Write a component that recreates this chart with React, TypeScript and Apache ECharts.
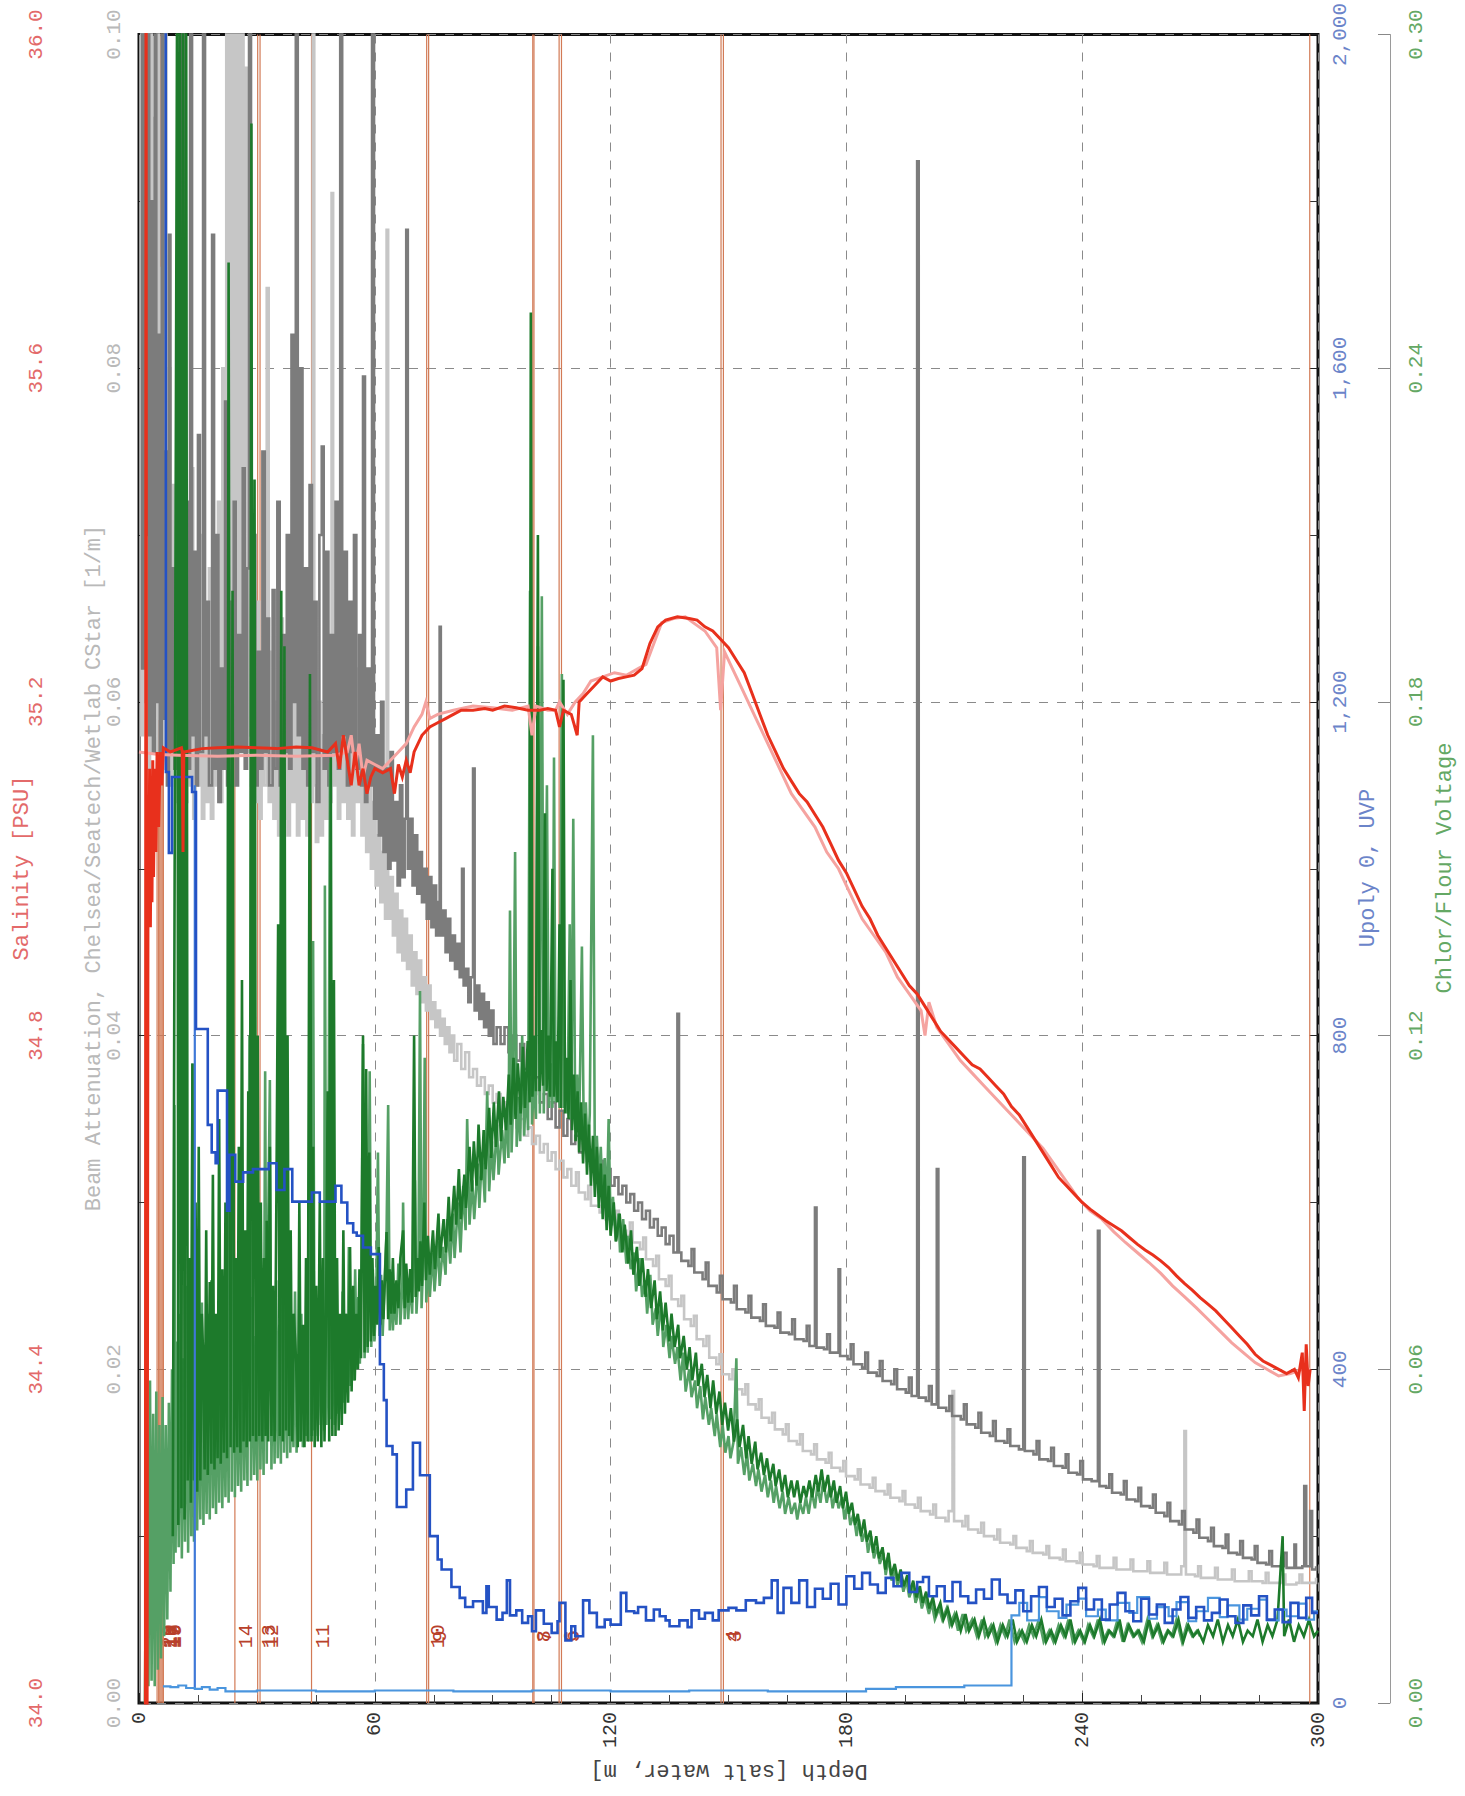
import React, { useEffect, useRef } from 'react';
import * as echarts from 'echarts';

const FONT = '"Liberation Mono", "DejaVu Sans Mono", monospace';

// Depth ticks (m)
const depthTicks = [0, 60, 120, 180, 240, 300];

// Axis titles
const titleSalinity = 'Salinity [PSU]';
const titleBeam = 'Beam Attenuation, Chelsea/Seatech/Wetlab CStar [1/m]';
const titleUvp = 'Upoly 0, UVP';
const titleChlor = 'Chlor/Flour Voltage';
const titleDepth = 'Depth [salt water, m]';

// Bottle fire depths and labels
const bottleDepths = [4.6, 5.0, 5.3, 5.6, 5.9, 6.2, 24.4, 30.2, 30.8, 43.9, 73.2, 73.7, 100.2, 100.5, 106.9, 107.5, 148.1, 148.7, 297.9];
const bottleLabels = ['20', '19', '18', '17', '16', '15', '14', '13', '12', '11', '10', '9', '8', '7', '6', '5', '4', '3', ''];

// Salinity [PSU] (red) - [depth, value]
const salinityRed = [
  [1.6, 33.6], [1.8, 36.3], [2.0, 33.7], [2.3, 35.05], [2.5, 34.95], [2.7, 35.12], [2.9, 34.93], [3.1, 35.1], [3.3, 34.96], [3.5, 35.13], [3.7, 34.99], [4.0, 35.12], [4.3, 35.02], [4.6, 35.14], [5.0, 35.05], [5.4, 35.14], [5.8, 35.1], [6.2, 35.145], [8, 35.14], [10.8, 35.145], [11, 35.14], [11.2, 35.02], [11.4, 35.14], [16, 35.144], [20, 35.145], [25, 35.146], [30, 35.145], [35, 35.144], [40, 35.146], [44, 35.145], [48, 35.14], [50, 35.15], [51, 35.12], [52, 35.16], [53, 35.13], [54, 35.1], [55, 35.14], [56, 35.1], [57, 35.12], [58, 35.09], [59, 35.11], [60, 35.12], [62, 35.115], [64, 35.12], [65, 35.09], [66, 35.125], [67, 35.11], [68, 35.13], [69, 35.115], [70, 35.14], [71, 35.15], [72, 35.16], [74, 35.17], [76, 35.175], [78, 35.18], [80, 35.185], [82, 35.19], [85, 35.19], [88, 35.192], [90, 35.19], [93, 35.195], [96, 35.193], [99, 35.19], [100, 35.19], [102, 35.19], [104, 35.192], [106, 35.19], [107, 35.17], [108, 35.19], [110, 35.185], [111.5, 35.16], [112, 35.2], [114, 35.21], [116, 35.22], [118, 35.23], [120, 35.225], [122, 35.228], [124, 35.23], [126, 35.232], [128, 35.24], [130, 35.27], [132, 35.29], [134, 35.298], [137, 35.302], [140, 35.3], [142, 35.298], [144, 35.29], [146, 35.285], [148, 35.275], [150, 35.265], [152, 35.25], [154, 35.235], [156, 35.21], [158, 35.185], [160, 35.16], [162, 35.14], [164, 35.12], [166, 35.105], [168, 35.09], [170, 35.08], [172, 35.065], [174, 35.05], [176, 35.03], [178, 35.01], [180, 34.995], [182, 34.975], [184, 34.955], [186, 34.94], [188, 34.92], [190, 34.905], [192, 34.89], [194, 34.875], [196, 34.86], [198, 34.85], [200, 34.835], [202, 34.82], [204, 34.805], [206, 34.795], [208, 34.785], [210, 34.775], [212, 34.765], [214, 34.76], [216, 34.75], [218, 34.74], [220, 34.73], [222, 34.715], [224, 34.705], [226, 34.69], [228, 34.675], [230, 34.66], [232, 34.645], [234, 34.63], [236, 34.62], [238, 34.61], [240, 34.6], [242, 34.592], [244, 34.585], [246, 34.578], [248, 34.572], [250, 34.566], [252, 34.558], [254, 34.55], [256, 34.543], [258, 34.537], [260, 34.53], [262, 34.522], [264, 34.512], [266, 34.503], [268, 34.495], [270, 34.486], [272, 34.478], [274, 34.47], [276, 34.46], [278, 34.45], [280, 34.44], [282, 34.43], [284, 34.418], [286, 34.41], [288, 34.405], [290, 34.4], [292, 34.395], [294, 34.4], [295, 34.39], [296, 34.42], [296.5, 34.35], [297, 34.43], [297.5, 34.38], [298, 34.4]
];

// Salinity [PSU] (pink)
const salinityPink = [
  [0, 35.14], [5, 35.137], [10, 35.136], [20, 35.135], [30, 35.136], [40, 35.135], [50, 35.136], [53, 35.14], [54, 35.16], [55, 35.12], [56, 35.15], [57, 35.11], [58, 35.13], [60, 35.125], [62, 35.12], [64, 35.13], [66, 35.14], [68, 35.15], [70, 35.17], [72, 35.185], [73, 35.2], [74, 35.18], [76, 35.185], [80, 35.19], [85, 35.195], [90, 35.193], [95, 35.19], [99, 35.195], [100, 35.16], [101, 35.195], [104, 35.19], [106, 35.19], [107, 35.2], [109, 35.185], [111, 35.2], [113, 35.21], [115, 35.225], [118, 35.23], [121, 35.235], [124, 35.232], [127, 35.24], [129, 35.245], [131, 35.27], [133, 35.295], [136, 35.3], [139, 35.302], [141, 35.295], [144, 35.285], [147, 35.265], [148, 35.19], [149, 35.26], [151, 35.24], [153, 35.22], [155, 35.2], [157, 35.18], [160, 35.15], [163, 35.12], [166, 35.09], [169, 35.07], [172, 35.05], [175, 35.02], [178, 35.0], [181, 34.97], [184, 34.94], [187, 34.92], [190, 34.9], [193, 34.87], [196, 34.85], [199, 34.83], [200, 34.8], [201, 34.84], [203, 34.81], [206, 34.79], [209, 34.77], [212, 34.755], [215, 34.74], [218, 34.725], [221, 34.71], [224, 34.695], [227, 34.68], [230, 34.665], [233, 34.645], [236, 34.625], [239, 34.605], [242, 34.59], [245, 34.58], [248, 34.565], [251, 34.552], [254, 34.54], [257, 34.528], [260, 34.515], [263, 34.5], [266, 34.487], [269, 34.474], [272, 34.46], [275, 34.446], [278, 34.432], [281, 34.42], [284, 34.408], [287, 34.4], [290, 34.392], [293, 34.395], [296, 34.4], [298, 34.4]
];

// Beam attenuation [1/m] (dark grey)
const beamDark = [
  [0.3, 0.105], [0.8, 0.062], [1.2, 0.105], [1.7, 0.07], [2.1, 0.105], [2.6, 0.058], [3.0, 0.09], [3.5, 0.057], [4.0, 0.105], [4.4, 0.06], [4.9, 0.082], [5.3, 0.056], [5.8, 0.105], [6.2, 0.059], [6.7, 0.075], [7.1, 0.055], [7.6, 0.088], [8.0, 0.057], [8.5, 0.068], [9.0, 0.056], [9.5, 0.078], [10.0, 0.058], [10.5, 0.064], [11.0, 0.105], [11.4, 0.06], [12.0, 0.072], [12.5, 0.056], [13.0, 0.105], [13.5, 0.058], [14.0, 0.069], [14.5, 0.055], [15.0, 0.076], [15.5, 0.057], [16.3, 0.105], [16.8, 0.058], [17.3, 0.066], [17.8, 0.055], [18.6, 0.088], [19.1, 0.056], [19.7, 0.07], [20.2, 0.054], [20.8, 0.062], [21.3, 0.056], [21.9, 0.078], [22.4, 0.055], [23.0, 0.066], [23.5, 0.057], [24.1, 0.072], [24.6, 0.055], [25.2, 0.064], [25.8, 0.057], [26.4, 0.074], [26.9, 0.056], [27.5, 0.068], [28.0, 0.105], [28.5, 0.058], [29.1, 0.07], [29.6, 0.055], [30.2, 0.063], [30.8, 0.056], [31.4, 0.075], [32.0, 0.057], [32.6, 0.065], [33.1, 0.055], [34.0, 0.0667], [34.5, 0.056], [35.2, 0.072], [35.8, 0.055], [36.4, 0.064], [37.0, 0.057], [37.6, 0.07], [38.2, 0.056], [38.8, 0.082], [39.3, 0.06], [39.9, 0.105], [40.4, 0.058], [41.0, 0.08], [41.6, 0.056], [42.2, 0.068], [42.8, 0.055], [43.4, 0.073], [44.0, 0.057], [44.6, 0.066], [45.2, 0.054], [45.9, 0.07], [46.5, 0.0753], [47.0, 0.056], [47.6, 0.069], [48.2, 0.055], [48.8, 0.064], [49.4, 0.057], [50.0, 0.072], [50.6, 0.056], [51.2, 0.105], [51.7, 0.058], [52.3, 0.069], [52.9, 0.055], [53.5, 0.066], [54.1, 0.057], [54.7, 0.07], [55.3, 0.056], [56.0, 0.064], [56.5, 0.055], [57.0, 0.0795], [57.5, 0.054], [58.1, 0.062], [58.7, 0.055], [59.3, 0.105], [59.8, 0.053], [60.4, 0.058], [61.0, 0.052], [61.6, 0.06], [62.2, 0.051], [62.8, 0.056], [63.4, 0.05], [64.0, 0.057], [64.6, 0.0505], [65.2, 0.054], [65.8, 0.049], [66.4, 0.055], [67.0, 0.0495], [67.6, 0.053], [68.0, 0.0883], [68.4, 0.05], [69.0, 0.053], [69.6, 0.049], [70.2, 0.052], [70.8, 0.0485], [71.4, 0.051], [72.0, 0.048], [72.6, 0.05], [73.2, 0.047], [73.8, 0.0495], [74.4, 0.0465], [75.0, 0.049], [75.6, 0.046], [76.2, 0.048], [76.5, 0.0645], [76.8, 0.046], [77.4, 0.0475], [78.0, 0.045], [78.6, 0.047], [79.2, 0.0445], [79.8, 0.046], [80.4, 0.044], [81.0, 0.0455], [81.6, 0.0435], [82.2, 0.05], [82.6, 0.043], [83.2, 0.044], [83.8, 0.042], [84.4, 0.0435], [85.0, 0.056], [85.4, 0.0415], [86.0, 0.043], [86.6, 0.041], [87.2, 0.0425], [87.8, 0.0405], [88.4, 0.042], [89.0, 0.04], [89.6, 0.0415], [90.2, 0.0395], [91, 0.0405], [92, 0.0395], [93, 0.0405], [94, 0.039], [95, 0.04], [96, 0.0385], [97, 0.0395], [98, 0.038], [99, 0.039], [100, 0.0365], [101, 0.0375], [102, 0.036], [103, 0.0365], [104, 0.035], [105, 0.036], [106, 0.0345], [107, 0.0355], [108, 0.034], [109, 0.035], [110, 0.0335], [111, 0.034], [112, 0.033], [113, 0.0335], [114, 0.0325], [115, 0.033], [116, 0.032], [117, 0.0325], [118, 0.0315], [119, 0.032], [120, 0.031], [121, 0.0315], [122, 0.0305], [123, 0.031], [124, 0.03], [125, 0.0305], [126, 0.0295], [127, 0.03], [128, 0.029], [129, 0.0295], [130, 0.0285], [131, 0.029], [132, 0.028], [133, 0.0285], [134, 0.0275], [135, 0.028], [136, 0.027], [137, 0.0413], [137.4, 0.027], [138, 0.0265], [139.8, 0.0262], [140.6, 0.0272], [141.3, 0.0258], [143.4, 0.0254], [144.2, 0.0264], [144.9, 0.025], [147, 0.0246], [147.8, 0.0256], [148.5, 0.0242], [150.6, 0.024], [151.4, 0.025], [152.1, 0.0236], [154.3, 0.0234], [155.1, 0.0244], [155.8, 0.0231], [158, 0.0229], [158.8, 0.0239], [159.5, 0.0226], [161.7, 0.0225], [162.5, 0.0234], [163.2, 0.0222], [165.4, 0.0221], [166.2, 0.023], [166.9, 0.0218], [169.1, 0.0217], [169.9, 0.0226], [170.6, 0.0214], [172, 0.0297], [172.4, 0.0213], [174.3, 0.0212], [175.1, 0.0221], [175.8, 0.021], [178, 0.026], [178.4, 0.0208], [180.3, 0.0206], [181.1, 0.0215], [181.8, 0.0203], [184, 0.0201], [184.8, 0.021], [185.5, 0.0198], [187.7, 0.0196], [188.5, 0.0205], [189.2, 0.0193], [191.4, 0.0191], [192.2, 0.02], [192.9, 0.0188], [195.1, 0.0186], [195.9, 0.0195], [196.6, 0.0184], [198, 0.0924], [198.4, 0.0183], [200.2, 0.0181], [201, 0.019], [201.7, 0.0179], [203, 0.032], [203.4, 0.0177], [205.4, 0.0175], [206.2, 0.0184], [206.9, 0.0172], [209.1, 0.017], [209.9, 0.0179], [210.6, 0.0167], [212.8, 0.0165], [213.6, 0.0174], [214.3, 0.0162], [216.5, 0.016], [217.3, 0.0169], [218, 0.0157], [220.2, 0.0156], [221, 0.0164], [221.7, 0.0154], [223.9, 0.0152], [225, 0.0327], [225.4, 0.0151], [227.6, 0.0149], [228.4, 0.0157], [229.1, 0.0146], [231.3, 0.0145], [232.1, 0.0153], [232.8, 0.0142], [235, 0.0141], [235.8, 0.0149], [236.5, 0.0138], [238.7, 0.0137], [239.5, 0.0145], [240.2, 0.0134], [242.4, 0.0133], [244, 0.0283], [244.4, 0.013], [246.1, 0.0129], [246.9, 0.0137], [247.6, 0.0126], [249.8, 0.0125], [250.6, 0.0133], [251.3, 0.0122], [253.5, 0.0121], [254.3, 0.0129], [255, 0.0118], [257.2, 0.0117], [258, 0.0125], [258.7, 0.0114], [260.9, 0.0112], [261.7, 0.012], [262.4, 0.0109], [264.6, 0.0107], [265.4, 0.0115], [266.1, 0.0104], [268.3, 0.0102], [269.1, 0.011], [269.8, 0.0099], [272, 0.0097], [272.8, 0.0105], [273.5, 0.0094], [275.7, 0.0093], [276.5, 0.0101], [277.2, 0.009], [279.4, 0.0089], [280.2, 0.0097], [280.9, 0.0087], [283.1, 0.0086], [283.9, 0.0094], [284.6, 0.0084], [286.8, 0.0083], [287.6, 0.0091], [288.3, 0.0082], [290.5, 0.0082], [291.3, 0.009], [292, 0.0081], [294, 0.0095], [294.4, 0.0081], [296, 0.0082], [296.5, 0.013], [297, 0.0082], [298, 0.0115], [298.5, 0.008], [299.5, 0.0082]
];

// Beam attenuation [1/m] (light grey)
const beamLight = [
  [0.2, 0.105], [0.6, 0.058], [1.0, 0.105], [1.5, 0.06], [1.9, 0.105], [2.4, 0.056], [2.8, 0.105], [3.3, 0.06], [3.7, 0.095], [4.2, 0.057], [4.7, 0.105], [5.1, 0.059], [5.6, 0.086], [6.1, 0.056], [6.6, 0.105], [7.0, 0.058], [7.5, 0.08], [8.0, 0.055], [8.4, 0.073], [8.9, 0.056], [9.4, 0.066], [9.8, 0.054], [10.3, 0.07], [10.8, 0.056], [11.3, 0.079], [11.8, 0.054], [12.3, 0.066], [12.8, 0.055], [13.3, 0.074], [13.8, 0.053], [14.4, 0.065], [14.9, 0.055], [15.5, 0.07], [16.0, 0.053], [16.6, 0.062], [17.2, 0.054], [17.8, 0.068], [18.3, 0.053], [18.9, 0.06], [19.5, 0.055], [20.1, 0.072], [20.6, 0.054], [21.2, 0.08], [21.7, 0.056], [22.2, 0.105], [22.6, 0.06], [23.0, 0.105], [23.4, 0.058], [23.8, 0.105], [24.2, 0.062], [24.6, 0.105], [25.0, 0.06], [25.4, 0.105], [25.8, 0.058], [26.2, 0.105], [26.6, 0.06], [27.0, 0.098], [27.5, 0.057], [28.0, 0.08], [28.5, 0.055], [29.0, 0.07], [29.5, 0.054], [30.0, 0.066], [30.6, 0.053], [31.2, 0.062], [31.8, 0.055], [32.5, 0.0848], [33.0, 0.054], [33.6, 0.063], [34.2, 0.053], [34.8, 0.06], [35.4, 0.052], [36.0, 0.065], [36.6, 0.053], [37.2, 0.059], [37.8, 0.052], [38.4, 0.063], [39.0, 0.054], [39.6, 0.06], [40.2, 0.052], [40.8, 0.066], [41.4, 0.053], [42.0, 0.06], [42.6, 0.052], [43.2, 0.064], [43.8, 0.054], [44.2, 0.105], [44.6, 0.055], [45.0, 0.0516], [45.6, 0.06], [46.2, 0.052], [46.8, 0.058], [47.4, 0.053], [48.0, 0.063], [48.6, 0.054], [49.0, 0.0905], [49.4, 0.055], [50.0, 0.061], [50.6, 0.053], [51.2, 0.066], [51.8, 0.054], [52.4, 0.06], [53.0, 0.053], [53.6, 0.058], [54.2, 0.052], [54.8, 0.062], [55.4, 0.054], [56.0, 0.06], [56.6, 0.052], [57.2, 0.056], [57.8, 0.051], [58.4, 0.055], [59.0, 0.05], [59.6, 0.054], [60.2, 0.049], [60.8, 0.052], [61.4, 0.048], [62.0, 0.051], [62.6, 0.047], [63.0, 0.0883], [63.4, 0.047], [64.0, 0.0495], [64.6, 0.046], [65.2, 0.0485], [65.8, 0.045], [66.4, 0.0475], [67.0, 0.0445], [67.6, 0.047], [68.2, 0.044], [68.8, 0.046], [69.4, 0.043], [70.0, 0.045], [70.6, 0.0425], [71.2, 0.0445], [71.8, 0.042], [72.4, 0.0435], [73.0, 0.0415], [73.6, 0.043], [74.2, 0.041], [74.8, 0.042], [75.4, 0.0405], [76.0, 0.0415], [76.6, 0.04], [77.2, 0.041], [77.8, 0.0395], [78.4, 0.0405], [79.0, 0.039], [79.6, 0.04], [80.2, 0.0385], [81, 0.0395], [82, 0.038], [83, 0.039], [84, 0.0375], [85, 0.038], [86, 0.037], [87, 0.0375], [88, 0.0365], [89, 0.037], [90, 0.036], [91, 0.0365], [92, 0.0355], [93, 0.036], [94, 0.035], [95, 0.0355], [96, 0.0345], [97, 0.035], [98, 0.034], [99, 0.0345], [100, 0.0335], [101, 0.034], [102, 0.033], [103, 0.0335], [104, 0.0325], [105, 0.033], [106, 0.032], [107, 0.0325], [108, 0.0315], [109, 0.032], [110, 0.031], [111.2, 0.0318], [111.9, 0.0306], [113.5, 0.0302], [114.3, 0.031], [115, 0.0298], [117.2, 0.0294], [118, 0.0302], [118.7, 0.029], [120.5, 0.0287], [121.4, 0.0295], [122.1, 0.0283], [124, 0.028], [124.9, 0.0288], [125.6, 0.0276], [127.5, 0.0272], [128.3, 0.0279], [129, 0.0266], [130.8, 0.0262], [131.6, 0.0268], [132.3, 0.0254], [134, 0.025], [134.8, 0.0256], [135.5, 0.0242], [137.2, 0.0238], [138, 0.0244], [138.7, 0.023], [140.4, 0.0226], [141.2, 0.0232], [141.9, 0.0218], [143.6, 0.0214], [144.4, 0.022], [145.1, 0.0207], [146.9, 0.0203], [147.7, 0.0209], [148.4, 0.0197], [150.2, 0.0194], [151, 0.02], [151.7, 0.0188], [153.5, 0.0185], [154.3, 0.0191], [155, 0.0179], [156.9, 0.0176], [157.7, 0.0182], [158.4, 0.0171], [160.3, 0.0168], [161.1, 0.0174], [161.8, 0.0164], [163.8, 0.0161], [164.6, 0.0167], [165.3, 0.0157], [167.4, 0.0155], [168.2, 0.0161], [168.9, 0.0151], [171, 0.0149], [171.8, 0.0155], [172.5, 0.0146], [174.7, 0.0144], [175.5, 0.015], [176.2, 0.0141], [178.4, 0.0139], [179.2, 0.0145], [179.9, 0.0136], [182.1, 0.0134], [182.9, 0.014], [183.6, 0.0131], [185.9, 0.0129], [186.7, 0.0135], [187.4, 0.0127], [189.7, 0.0125], [190.5, 0.0131], [191.2, 0.0123], [193.5, 0.0121], [194.3, 0.0127], [195, 0.0119], [197.4, 0.0117], [198.2, 0.0123], [198.9, 0.0115], [201.3, 0.0113], [202.1, 0.0119], [202.8, 0.0111], [205.2, 0.0109], [206, 0.0115], [207, 0.0187], [207.4, 0.0109], [209.5, 0.0106], [210.3, 0.0112], [211, 0.0104], [213.5, 0.0102], [214.3, 0.0108], [215, 0.01], [217.6, 0.0098], [218.4, 0.0104], [219.1, 0.0096], [221.7, 0.0095], [222.5, 0.01], [223.2, 0.0093], [225.9, 0.0091], [226.7, 0.0097], [227.4, 0.009], [230.1, 0.0089], [230.9, 0.0094], [231.6, 0.0087], [234.3, 0.0086], [235.1, 0.0092], [235.8, 0.0085], [238.6, 0.0084], [239.4, 0.009], [240.1, 0.0083], [242.9, 0.0082], [243.7, 0.0088], [244.4, 0.0081], [247.2, 0.0081], [248, 0.0087], [248.7, 0.008], [251.5, 0.008], [252.3, 0.0086], [253, 0.0079], [255.8, 0.0079], [256.6, 0.0085], [257.3, 0.0078], [260.1, 0.0078], [260.9, 0.0084], [261.6, 0.0077], [264.4, 0.0077], [265.2, 0.0082], [266, 0.0163], [266.4, 0.0077], [268.7, 0.0076], [269.5, 0.0082], [270.2, 0.0075], [273, 0.0075], [273.8, 0.0081], [274.5, 0.0074], [277.3, 0.0074], [278.1, 0.008], [278.8, 0.0073], [281.6, 0.0073], [282.4, 0.0079], [283.1, 0.0073], [285.9, 0.0072], [286.7, 0.0078], [287.4, 0.0072], [290.2, 0.0072], [291, 0.0077], [291.7, 0.0071], [294.5, 0.0072], [295.3, 0.0077], [296, 0.0072], [298.8, 0.0072], [299.5, 0.0075]
];

// Chlor/Flour voltage (medium green)
const chlorMed = [
  [1.5, 0.0], [2, 0.05], [2.4, 0.003], [2.8, 0.058], [3.2, 0.004], [3.6, 0.052], [4.0, 0.003], [4.4, 0.056], [4.8, 0.006], [5.2, 0.05], [5.6, 0.008], [6.0, 0.055], [6.4, 0.012], [6.8, 0.05], [7.2, 0.015], [7.6, 0.054], [8.0, 0.02], [8.4, 0.06], [8.8, 0.025], [9.0, 0.1075], [9.3, 0.027], [9.7, 0.065], [10.1, 0.028], [10.5, 0.07], [10.9, 0.026], [11.3, 0.062], [11.7, 0.029], [12.1, 0.075], [12.5, 0.027], [12.9, 0.066], [13.3, 0.03], [13.6, 0.115], [14.0, 0.029], [14.4, 0.07], [14.8, 0.031], [15.2, 0.064], [15.6, 0.033], [16.0, 0.072], [16.4, 0.032], [16.8, 0.063], [17.2, 0.034], [17.6, 0.07], [18.0, 0.033], [18.4, 0.076], [18.8, 0.035], [19.2, 0.062], [19.6, 0.034], [20.0, 0.069], [20.4, 0.036], [20.8, 0.074], [21.2, 0.035], [21.6, 0.063], [22.0, 0.037], [22.4, 0.07], [22.8, 0.036], [23.2, 0.141], [23.6, 0.038], [24.0, 0.1], [24.4, 0.037], [24.8, 0.072], [25.2, 0.039], [25.6, 0.066], [26.0, 0.038], [26.4, 0.075], [26.8, 0.04], [27.2, 0.068], [27.6, 0.039], [28.1, 0.12], [28.5, 0.04], [28.9, 0.073], [29.3, 0.041], [29.7, 0.066], [30.1, 0.04], [30.5, 0.078], [30.9, 0.042], [31.3, 0.067], [31.7, 0.041], [32.1, 0.1136], [32.5, 0.043], [32.9, 0.087], [33.3, 0.112], [33.7, 0.042], [34.1, 0.07], [34.5, 0.043], [34.9, 0.076], [35.3, 0.044], [35.7, 0.068], [36.1, 0.043], [36.5, 0.15], [36.9, 0.045], [37.3, 0.072], [37.7, 0.044], [38.1, 0.079], [38.5, 0.045], [38.9, 0.067], [39.3, 0.046], [39.7, 0.074], [40.1, 0.045], [40.5, 0.061], [40.9, 0.047], [41.3, 0.07], [41.7, 0.046], [42.1, 0.065], [42.5, 0.048], [42.9, 0.073], [43.3, 0.047], [43.6, 0.13], [44.0, 0.048], [44.3, 0.137], [44.7, 0.049], [45.1, 0.068], [45.5, 0.048], [45.9, 0.075], [46.3, 0.05], [46.7, 0.067], [47.1, 0.049], [47.3, 0.147], [47.7, 0.05], [48.1, 0.072], [48.6, 0.169], [49.0, 0.051], [49.4, 0.07], [49.8, 0.05], [50.2, 0.076], [50.6, 0.052], [51.0, 0.069], [51.4, 0.053], [51.8, 0.074], [52.2, 0.054], [52.6, 0.07], [53.0, 0.056], [53.4, 0.082], [53.8, 0.057], [54.2, 0.072], [54.6, 0.058], [55.0, 0.078], [55.4, 0.06], [55.8, 0.073], [56.2, 0.061], [56.6, 0.08], [57.0, 0.1185], [57.4, 0.062], [57.8, 0.076], [58.2, 0.063], [58.7, 0.1136], [59.1, 0.064], [59.5, 0.078], [59.9, 0.065], [60.4, 0.074], [60.8, 0.099], [61.2, 0.066], [61.6, 0.077], [62.0, 0.066], [62.4, 0.074], [63.0, 0.085], [63.4, 0.1075], [63.8, 0.067], [64.2, 0.076], [64.6, 0.067], [65.0, 0.073], [65.5, 0.068], [66.0, 0.079], [66.5, 0.068], [67.0, 0.075], [67.2, 0.09], [67.6, 0.069], [68.0, 0.078], [68.5, 0.069], [69.0, 0.076], [69.5, 0.07], [70.2, 0.094], [70.6, 0.07], [71.1, 0.078], [71.5, 0.128], [71.9, 0.071], [72.3, 0.079], [72.7, 0.116], [73.1, 0.072], [73.6, 0.08], [74.0, 0.073], [74.7, 0.081], [75.2, 0.074], [76.1, 0.083], [76.5, 0.075], [77.3, 0.082], [78, 0.077], [78.4, 0.087], [79.2, 0.079], [79.9, 0.088], [80.3, 0.08], [81.2, 0.09], [81.8, 0.081], [82.5, 0.093], [83.1, 0.085], [83.5, 0.105], [84.1, 0.086], [84.8, 0.094], [85.3, 0.087], [86.2, 0.097], [86.6, 0.089], [87.3, 0.099], [88, 0.09], [88.6, 0.11], [89.1, 0.092], [89.8, 0.101], [90.2, 0.094], [91.1, 0.104], [91.5, 0.095], [92.4, 0.103], [93, 0.097], [93.5, 0.107], [94, 0.098], [94.4, 0.1425], [94.8, 0.099], [95.2, 0.108], [95.7, 0.153], [96.1, 0.1], [96.6, 0.109], [97, 0.101], [97.5, 0.12], [98, 0.102], [98.5, 0.111], [99, 0.103], [99.5, 0.2], [100, 0.104], [100.5, 0.112], [101, 0.105], [101.5, 0.19], [102, 0.106], [102.5, 0.199], [103, 0.106], [103.8, 0.165], [104.3, 0.107], [104.8, 0.115], [105.2, 0.107], [105.6, 0.17], [106, 0.108], [106.5, 0.116], [107, 0.107], [107.6, 0.185], [108.1, 0.107], [108.6, 0.115], [109, 0.106], [109.6, 0.14], [110, 0.105], [110.5, 0.159], [111, 0.104], [111.5, 0.113], [112, 0.103], [112.7, 0.136], [113.2, 0.1], [113.7, 0.108], [114.2, 0.098], [114.7, 0.106], [115.5, 0.174], [116, 0.095], [116.5, 0.102], [117, 0.093], [117.5, 0.1], [118, 0.09], [118.5, 0.098], [119, 0.088], [119.5, 0.105], [120, 0.086], [120.6, 0.091], [121.3, 0.083], [122, 0.088], [122.4, 0.081], [123.2, 0.087], [124, 0.079], [124.3, 0.084], [125.1, 0.078], [126, 0.081], [126.5, 0.074], [127.4, 0.08], [128, 0.073], [128.8, 0.076], [129.3, 0.07], [130.1, 0.077], [130.7, 0.068], [131.5, 0.071], [132, 0.066], [132.9, 0.072], [133.4, 0.064], [134.2, 0.068], [135, 0.062], [135.5, 0.066], [136.4, 0.061], [137, 0.064], [137.8, 0.058], [138.5, 0.063], [139.1, 0.056], [140, 0.06], [140.6, 0.055], [141.5, 0.058], [142, 0.053], [142.8, 0.057], [143.5, 0.051], [144.1, 0.055], [145, 0.05], [145.6, 0.053], [146.5, 0.048], [147, 0.052], [147.9, 0.046], [148.5, 0.05], [149.2, 0.045], [150, 0.048], [150.5, 0.044], [151.3, 0.047], [152, 0.062], [152.4, 0.043], [153.2, 0.046], [154, 0.041], [154.7, 0.045], [155.3, 0.04], [156.2, 0.043], [157, 0.039], [157.6, 0.042], [158.4, 0.038], [159.3, 0.041], [160, 0.037], [160.8, 0.04], [161.5, 0.036], [162.1, 0.039], [163, 0.035], [163.8, 0.038], [164.4, 0.034], [165.3, 0.037], [166, 0.034], [166.9, 0.036], [167.5, 0.033], [168.2, 0.036], [169, 0.034], [169.7, 0.037], [170.4, 0.034], [171.2, 0.038], [172, 0.035], [172.6, 0.039], [173.4, 0.036], [174.1, 0.04], [175, 0.036], [175.8, 0.039], [176.5, 0.035], [177.3, 0.038], [178, 0.035], [178.9, 0.037], [179.5, 0.033], [180.3, 0.036], [181, 0.032], [181.8, 0.034], [182.6, 0.03], [183.2, 0.033], [184, 0.029], [184.9, 0.031], [185.5, 0.027], [186.3, 0.03], [187, 0.026], [187.8, 0.028], [188.5, 0.025], [189.4, 0.027], [190, 0.023], [190.7, 0.026], [191.5, 0.022], [192.4, 0.024], [193, 0.021], [193.8, 0.023], [194.5, 0.02], [195.3, 0.022], [196, 0.019], [197, 0.021], [197.6, 0.018], [198.5, 0.02], [199.2, 0.017], [200, 0.019], [201, 0.016], [201.7, 0.018], [202.5, 0.015], [203.6, 0.017], [204.4, 0.015], [205.5, 0.017], [206.3, 0.014], [207.5, 0.016], [208.4, 0.013], [209.6, 0.016], [210.5, 0.013], [212, 0.015], [213.2, 0.012], [214.5, 0.015], [215.3, 0.012], [216.8, 0.014], [218, 0.011], [219.2, 0.014], [220.4, 0.012], [221.5, 0.015], [222.8, 0.011], [224, 0.013], [225.3, 0.011], [226.5, 0.014], [227.6, 0.012], [229, 0.015], [230.2, 0.011], [231.6, 0.013], [232.7, 0.011], [234, 0.014], [235.3, 0.012], [236.5, 0.015], [237.6, 0.011], [239, 0.013], [240.4, 0.011], [241.5, 0.014], [242.8, 0.012], [244, 0.015], [245.2, 0.011], [246.6, 0.013], [247.8, 0.012], [249, 0.015], [250.3, 0.011], [251.5, 0.014], [252.9, 0.012], [254, 0.013], [255.2, 0.011], [256.6, 0.015], [257.8, 0.012], [259, 0.014], [260.3, 0.011], [261.7, 0.013], [262.8, 0.012], [264, 0.015], [265.4, 0.011], [266.6, 0.014], [268, 0.012], [269.2, 0.013], [270, 0.012]
];

// Chlor/Flour voltage (dark green)
const chlorDark = [
  [8.6, 0.03], [9.7, 0.31], [10.0, 0.032], [10.4, 0.31], [10.8, 0.035], [11.2, 0.31], [11.6, 0.033], [12.0, 0.31], [12.4, 0.04], [12.8, 0.08], [13.2, 0.036], [13.6, 0.115], [14.0, 0.04], [14.4, 0.09], [14.8, 0.038], [15.2, 0.1], [15.6, 0.04], [16.0, 0.07], [16.3, 0.063], [16.7, 0.042], [17.1, 0.085], [17.5, 0.041], [18.0, 0.0757], [18.4, 0.043], [18.8, 0.095], [19.2, 0.042], [19.6, 0.07], [20.0, 0.044], [20.4, 0.105], [20.8, 0.043], [21.2, 0.078], [21.6, 0.045], [22.0, 0.09], [22.4, 0.044], [22.8, 0.259], [23.3, 0.046], [23.8, 0.2], [24.2, 0.045], [24.6, 0.08], [25.0, 0.046], [25.4, 0.1], [25.8, 0.045], [26.2, 0.13], [26.6, 0.047], [27.0, 0.085], [27.4, 0.046], [27.8, 0.11], [28.2, 0.047], [28.6, 0.284], [29.0, 0.048], [29.4, 0.22], [29.8, 0.047], [30.2, 0.12], [30.6, 0.048], [31.0, 0.09], [31.4, 0.047], [31.8, 0.08], [32.2, 0.048], [32.5, 0.0867], [32.9, 0.047], [33.3, 0.1], [33.7, 0.048], [34.1, 0.075], [34.5, 0.047], [35.0, 0.095], [35.4, 0.14], [35.8, 0.048], [36.2, 0.2], [36.6, 0.047], [37.0, 0.19], [37.4, 0.049], [37.8, 0.12], [38.2, 0.048], [38.6, 0.085], [39.0, 0.047], [39.4, 0.07], [40.0, 0.061], [40.4, 0.046], [40.8, 0.09], [41.2, 0.047], [41.7, 0.068], [42.1, 0.046], [42.5, 0.08], [42.9, 0.047], [43.5, 0.185], [43.9, 0.047], [44.3, 0.1], [44.7, 0.046], [45.1, 0.075], [45.5, 0.047], [46.0, 0.09], [46.4, 0.046], [46.8, 0.08], [47.2, 0.047], [47.6, 0.07], [48.0, 0.11], [48.4, 0.047], [48.8, 0.17], [49.2, 0.048], [49.6, 0.13], [50.0, 0.048], [50.4, 0.08], [50.8, 0.049], [51.2, 0.07], [51.6, 0.05], [52.0, 0.085], [52.4, 0.052], [52.8, 0.07], [53.2, 0.054], [53.7, 0.082], [54.1, 0.056], [54.5, 0.075], [54.9, 0.058], [55.3, 0.07], [55.7, 0.06], [56.1, 0.078], [56.5, 0.062], [57.0, 0.12], [57.4, 0.063], [57.8, 0.114], [58.2, 0.064], [58.6, 0.099], [59.0, 0.065], [59.4, 0.08], [59.8, 0.066], [60.2, 0.075], [60.6, 0.068], [61.0, 0.082], [61.4, 0.068], [61.8, 0.076], [62.2, 0.069], [63.0, 0.0847], [63.4, 0.069], [63.8, 0.078], [64.2, 0.07], [64.6, 0.08], [65.0, 0.07], [65.5, 0.076], [66, 0.071], [66.5, 0.08], [67.2, 0.085], [67.6, 0.071], [68, 0.079], [68.5, 0.072], [69, 0.078], [69.5, 0.072], [70.0, 0.12], [70.4, 0.073], [70.8, 0.08], [71.2, 0.074], [71.6, 0.083], [72.0, 0.075], [72.6, 0.09], [73, 0.076], [73.5, 0.084], [74, 0.077], [74.8, 0.085], [75.3, 0.078], [76.2, 0.088], [76.6, 0.08], [77.5, 0.087], [78.1, 0.081], [78.8, 0.091], [79.3, 0.083], [80.2, 0.093], [80.7, 0.086], [81.4, 0.096], [81.9, 0.087], [82.8, 0.095], [83.2, 0.089], [84.1, 0.1], [84.7, 0.092], [85.2, 0.101], [85.9, 0.093], [86.4, 0.104], [87.1, 0.094], [87.7, 0.103], [88.2, 0.096], [89.1, 0.107], [89.6, 0.098], [90.3, 0.108], [90.8, 0.1], [91.6, 0.11], [92.1, 0.101], [92.7, 0.109], [93.4, 0.103], [94.1, 0.113], [94.6, 0.104], [95.3, 0.116], [95.8, 0.105], [96.4, 0.115], [97.1, 0.106], [97.7, 0.118], [98.2, 0.107], [98.9, 0.119], [99.4, 0.108], [99.7, 0.25], [100.1, 0.109], [100.6, 0.12], [101, 0.11], [101.5, 0.21], [101.9, 0.11], [102.4, 0.121], [102.8, 0.111], [103.3, 0.16], [103.7, 0.11], [104.2, 0.12], [104.6, 0.109], [105.2, 0.15], [105.6, 0.109], [106.1, 0.119], [106.5, 0.108], [107, 0.14], [107.4, 0.107], [108, 0.184], [108.4, 0.106], [108.9, 0.116], [109.3, 0.105], [109.8, 0.13], [110.2, 0.103], [110.7, 0.113], [111.1, 0.101], [111.6, 0.11], [112, 0.099], [112.5, 0.108], [113, 0.097], [113.5, 0.106], [114, 0.095], [114.5, 0.104], [115, 0.093], [115.5, 0.102], [116, 0.091], [116.5, 0.1], [117, 0.089], [117.5, 0.097], [118, 0.087], [118.5, 0.095], [119, 0.085], [119.5, 0.093], [120, 0.084], [120.8, 0.09], [121.4, 0.083], [122.3, 0.088], [123, 0.081], [123.6, 0.086], [124.5, 0.079], [125.2, 0.085], [125.8, 0.077], [126.7, 0.082], [127.3, 0.075], [128.1, 0.08], [128.9, 0.073], [129.5, 0.078], [130.3, 0.071], [131.2, 0.076], [131.8, 0.069], [132.6, 0.074], [133.3, 0.067], [134, 0.072], [134.9, 0.065], [135.5, 0.07], [136.3, 0.064], [137.2, 0.068], [137.7, 0.062], [138.6, 0.066], [139.4, 0.06], [140.1, 0.064], [140.8, 0.058], [141.7, 0.063], [142.3, 0.057], [143.2, 0.061], [143.9, 0.055], [144.6, 0.059], [145.4, 0.053], [146.1, 0.058], [146.9, 0.052], [147.7, 0.056], [148.4, 0.05], [149.1, 0.054], [149.9, 0.049], [150.6, 0.053], [151.4, 0.047], [152.2, 0.051], [152.8, 0.046], [153.7, 0.05], [154.5, 0.044], [155.1, 0.048], [155.9, 0.043], [156.8, 0.047], [157.4, 0.042], [158.3, 0.045], [159, 0.041], [159.8, 0.044], [160.5, 0.04], [161.4, 0.043], [162, 0.039], [162.9, 0.042], [163.6, 0.038], [164.4, 0.041], [165.1, 0.037], [166, 0.04], [166.7, 0.037], [167.5, 0.04], [168.3, 0.036], [169.1, 0.039], [169.8, 0.037], [170.6, 0.04], [171.3, 0.037], [172.2, 0.041], [172.9, 0.038], [173.7, 0.042], [174.4, 0.038], [175.3, 0.041], [176, 0.037], [176.8, 0.04], [177.5, 0.036], [178.4, 0.039], [179.1, 0.035], [179.9, 0.038], [180.6, 0.034], [181.4, 0.036], [182.2, 0.032], [182.9, 0.034], [183.7, 0.03], [184.5, 0.033], [185.2, 0.029], [186.1, 0.031], [186.8, 0.027], [187.6, 0.03], [188.3, 0.026], [189.2, 0.028], [189.9, 0.024], [190.7, 0.027], [191.4, 0.023], [192.3, 0.025], [193.1, 0.022], [193.8, 0.024], [194.6, 0.021], [195.5, 0.023], [196.2, 0.02], [197, 0.022], [197.8, 0.019], [198.7, 0.021], [199.4, 0.018], [200.3, 0.02], [201.1, 0.017], [202, 0.019], [202.8, 0.016], [203.9, 0.018], [204.7, 0.015], [205.8, 0.017], [206.9, 0.014], [208, 0.016], [209.1, 0.013], [210.3, 0.016], [211.2, 0.013], [212.6, 0.015], [213.7, 0.012], [215, 0.015], [216.1, 0.012], [217.4, 0.014], [218.5, 0.011], [219.8, 0.014], [221, 0.012], [222.3, 0.015], [223.4, 0.011], [224.7, 0.013], [225.9, 0.011], [227.2, 0.014], [228.3, 0.012], [229.6, 0.015], [230.8, 0.011], [232.1, 0.013], [233.2, 0.011], [234.6, 0.014], [235.8, 0.012], [237, 0.015], [238.2, 0.011], [239.5, 0.013], [240.7, 0.011], [242, 0.014], [243.1, 0.012], [244.5, 0.015], [245.7, 0.011], [246.9, 0.013], [248.2, 0.012], [249.5, 0.015], [250.6, 0.011], [251.9, 0.014], [253.2, 0.012], [254.4, 0.013], [255.7, 0.011], [257, 0.015], [258.1, 0.012], [259.4, 0.014], [260.7, 0.011], [261.9, 0.013], [263.2, 0.012], [264.5, 0.015], [265.7, 0.011], [267, 0.014], [268.3, 0.012], [269.5, 0.013], [270.8, 0.011], [272, 0.014], [273.3, 0.012], [274.5, 0.015], [275.8, 0.011], [277.1, 0.014], [278.3, 0.012], [279.6, 0.015], [280.9, 0.011], [282.1, 0.013], [283.4, 0.012], [284.6, 0.015], [285.9, 0.011], [287.2, 0.014], [288.4, 0.012], [289.7, 0.015], [291, 0.03], [291.4, 0.012], [292.6, 0.015], [293.9, 0.011], [295.1, 0.014], [296.4, 0.012], [297.7, 0.015], [299, 0.012], [300, 0.013]
];

// Upoly 0, UVP (dark blue) - stepped
const uvpDark = [
  [6.8, 2100], [6.85, 1116], [7.6, 1019], [8.4, 1110], [13.5, 1092], [14.5, 808], [17.5, 693], [18.5, 660], [19.5, 647], [20, 734], [22.4, 590], [23, 657], [24.5, 625], [26.5, 636], [29, 640], [33, 647], [35, 615], [37, 640], [39, 601], [41.7, 601], [44, 612], [46, 601], [50, 620], [51.5, 600], [53, 575], [54.5, 564], [55.4, 560], [57, 546], [59, 538], [61.3, 406], [62.3, 363], [63, 308], [64.5, 298], [65.6, 235], [68, 256], [69.7, 312], [71.5, 273], [74, 200], [76, 172], [77, 160], [79.5, 139], [81.6, 126], [83, 115], [85, 122], [87.5, 108], [88.4, 140], [89, 115], [91, 100], [92.5, 108], [93.6, 147], [94.4, 105], [96, 111], [97.5, 96], [99, 104], [100, 86], [101, 111], [103, 95], [105, 84], [106.5, 98], [107, 120], [108.5, 75], [110, 92], [111, 80], [113, 123], [114.6, 108], [116.5, 91], [118.5, 100], [120, 94], [122.6, 132], [124, 110], [126, 108], [127, 115], [129, 99], [131, 112], [132.5, 104], [134, 99], [135, 92], [137.5, 99], [139.6, 91], [140.6, 111], [142.5, 101], [144, 108], [146, 99], [147.5, 111], [150, 114], [152, 111], [154.4, 123], [157, 120], [159, 126], [161, 147], [162.5, 108], [164, 138], [166, 120], [168, 147], [170, 115], [172, 137], [174, 125], [176, 143], [178, 118], [180, 152], [182, 137], [184, 156], [186, 142], [188, 132], [190, 150], [192, 140], [194, 156], [196, 133], [198, 145], [199.5, 151], [201, 128], [203, 140], [205, 122], [207, 145], [209, 128], [211, 120], [213, 136], [215, 125], [217, 148], [219, 130], [221, 120], [223, 135], [225, 110], [227, 128], [229, 139], [231, 115], [233, 125], [235, 105], [237, 122], [239, 138], [241, 112], [243, 124], [245, 100], [247, 118], [249, 132], [251, 110], [253, 98], [255, 125], [257, 106], [259, 118], [261, 96], [263, 112], [265, 127], [267, 102], [269, 115], [271, 99], [273, 108], [275, 124], [277, 104], [279, 96], [281, 117], [283, 105], [285, 128], [287, 100], [289, 112], [291, 97], [293, 120], [295, 102], [297, 126], [298.5, 108], [300, 108]
];

// Upoly 0, UVP (light blue) - drop at the surface
const uvpLightDrop = [
  [14.2, 1100], [14.2, 17]
];

// Upoly 0, UVP (light blue) - stepped
const uvpLight = [
  [6.1, 20], [8, 19], [10, 21], [12, 18], [14.2, 17], [16, 19], [18, 16], [20, 18], [22, 14], [30, 15], [45, 14], [60, 15], [80, 14], [100, 15], [120, 14], [140, 15], [160, 14], [185, 17], [192.6, 19], [210, 21], [222, 105], [224, 120], [226, 99], [229, 127], [231, 110], [234, 102], [236, 118], [239, 125], [241, 104], [244, 112], [246, 99], [249, 120], [252, 108], [254, 127], [257, 101], [259, 115], [262, 104], [264, 121], [267, 98], [269, 110], [272, 126], [275, 103], [277, 117], [280, 100], [282, 113], [285, 124], [287, 99], [290, 112], [292, 104], [295, 119], [297, 100], [299, 110], [300, 110]
];

const fmtThousands = (v: number) => String(Math.round(v)).replace(/\B(?=(\d{3})+(?!\d))/g, ',');

function lineSeries(name: string, data: number[][], yAxisIndex: number, color: string, width: number, z: number, step?: string) {
  return {
    name,
    type: 'line',
    xAxisIndex: 0,
    yAxisIndex,
    data,
    step: step || false,
    showSymbol: false,
    symbol: 'none',
    clip: true,
    silent: true,
    z,
    lineStyle: { color, width, join: 'miter' },
  };
}

function buildOption() {
  const titleText = (text: string, x: number, y: number, color: string, rotation: number) => ({
    type: 'text',
    x,
    y,
    rotation,
    silent: true,
    style: {
      text,
      fill: color,
      font: `22px ${FONT}`,
      align: 'center',
      verticalAlign: 'middle',
      textAlign: 'center',
      textVerticalAlign: 'middle',
    },
  });

  return {
    animation: false,
    backgroundColor: '#ffffff',
    grid: {
      left: 139,
      right: 147,
      top: 33,
      bottom: 93,
      show: true,
      borderColor: '#111111',
      borderWidth: 3,
      backgroundColor: 'transparent',
    },
    xAxis: [
      {
        type: 'value',
        min: depthTicks[0],
        max: depthTicks[depthTicks.length - 1],
        interval: 60,
        position: 'bottom',
        axisLine: { show: false },
        axisTick: { show: true, inside: true, length: 10, lineStyle: { color: '#222' } },
        minorTick: { show: true, splitNumber: 4, length: 8, lineStyle: { color: '#444' } },
        axisLabel: { rotate: 90, margin: 9, color: '#333', fontFamily: FONT, fontSize: 20 },
        splitLine: { show: true, lineStyle: { color: '#8a8a8a', width: 1, type: [9, 9] } },
      },
    ],
    yAxis: [
      {
        type: 'value',
        position: 'left',
        offset: 79,
        min: 34,
        max: 36,
        interval: 0.4,
        axisLine: { show: true, lineStyle: { color: '#9a9a9a', width: 1 } },
        axisTick: { show: true, inside: true, length: 12, lineStyle: { color: '#888' } },
        axisLabel: { rotate: 90, margin: 13, color: '#e36a6a', fontFamily: FONT, fontSize: 21, formatter: (v: number) => v.toFixed(1) },
        splitLine: { show: false },
      },
      {
        type: 'value',
        position: 'left',
        offset: 0,
        min: 0,
        max: 0.1,
        interval: 0.02,
        axisLine: { show: false },
        axisTick: { show: true, inside: true, length: 8, lineStyle: { color: '#222' } },
        minorTick: { show: true, splitNumber: 2, length: 8, lineStyle: { color: '#333' } },
        axisLabel: { rotate: 90, margin: 14, color: '#b9b9b9', fontFamily: FONT, fontSize: 21, formatter: (v: number) => v.toFixed(2) },
        splitLine: { show: true, lineStyle: { color: '#8a8a8a', width: 1, type: [9, 9] } },
      },
      {
        type: 'value',
        position: 'right',
        offset: 0,
        min: 0,
        max: 2000,
        interval: 400,
        axisLine: { show: false },
        axisTick: { show: true, inside: true, length: 8, lineStyle: { color: '#222' } },
        minorTick: { show: true, splitNumber: 2, length: 8, lineStyle: { color: '#333' } },
        axisLabel: { rotate: 90, margin: 12, color: '#6b84c9', fontFamily: FONT, fontSize: 21, formatter: fmtThousands },
        splitLine: { show: false },
      },
      {
        type: 'value',
        position: 'right',
        offset: 72,
        min: 0,
        max: 0.3,
        interval: 0.06,
        axisLine: { show: true, lineStyle: { color: '#9a9a9a', width: 1 } },
        axisTick: { show: true, inside: true, length: 12, lineStyle: { color: '#888' } },
        axisLabel: { rotate: 90, margin: 16, color: '#64a864', fontFamily: FONT, fontSize: 21, formatter: (v: number) => v.toFixed(2) },
        splitLine: { show: false },
      },
    ],
    graphic: [
      titleText(titleSalinity, 22, 868, '#e36a6a', Math.PI / 2),
      titleText(titleBeam, 94, 868, '#b9b9b9', Math.PI / 2),
      titleText(titleUvp, 1368, 868, '#6b84c9', Math.PI / 2),
      titleText(titleChlor, 1445, 868, '#64a864', Math.PI / 2),
      titleText(titleDepth, 729, 1770, '#444444', Math.PI),
    ],
    series: [
      {
        name: 'bottles',
        type: 'custom',
        xAxisIndex: 0,
        yAxisIndex: 1,
        silent: true,
        z: 1,
        data: bottleDepths.map((d) => [d, 0]),
        renderItem: (params: any, api: any) => {
          const d = api.value(0);
          const p0 = api.coord([d, 0]);
          const p1 = api.coord([d, 0.1]);
          const pl = api.coord([d, 0.004]);
          const label = bottleLabels[params.dataIndex];
          return {
            type: 'group',
            children: [
              {
                type: 'line',
                shape: { x1: p0[0], y1: p0[1], x2: p1[0], y2: p1[1] },
                style: { stroke: '#d27a55', lineWidth: 1.2 },
              },
              {
                type: 'text',
                x: pl[0] + 12,
                y: pl[1],
                rotation: Math.PI / 2,
                style: {
                  text: label,
                  fill: '#b8402a',
                  font: `20px ${FONT}`,
                  align: 'center',
                  verticalAlign: 'middle',
                  textAlign: 'center',
                  textVerticalAlign: 'middle',
                },
              },
            ],
          };
        },
      },
      lineSeries('Beam light', beamLight, 1, '#c6c6c6', 2.6, 2, 'end'),
      lineSeries('Beam dark', beamDark, 1, '#7c7c7c', 2.6, 3, 'end'),
      lineSeries('Chlor medium', chlorMed, 3, '#55a065', 2.6, 4),
      lineSeries('Chlor dark', chlorDark, 3, '#1d7a2b', 2.6, 5),
      lineSeries('UVP light drop', uvpLightDrop, 2, '#3f78d8', 2.2, 6),
      lineSeries('UVP light', uvpLight, 2, '#4a95de', 2.2, 6, 'end'),
      lineSeries('UVP dark', uvpDark, 2, '#2452c4', 2.6, 7, 'end'),
      lineSeries('Salinity pink', salinityPink, 0, '#f5a3a0', 3, 8),
      lineSeries('Salinity red', salinityRed, 0, '#e8301c', 3, 9),
    ],
  };
}

export default function App() {
  const ref = useRef<HTMLDivElement>(null);
  useEffect(() => {
    if (!ref.current) return;
    const chart = echarts.init(ref.current, null, { renderer: 'svg' });
    chart.setOption(buildOption() as any);
    return () => chart.dispose();
  }, []);
  return (
    <div
      ref={ref}
      style={{ position: 'absolute', left: 0, top: 0, width: 1465, height: 1796, background: '#fff' }}
    />
  );
}
